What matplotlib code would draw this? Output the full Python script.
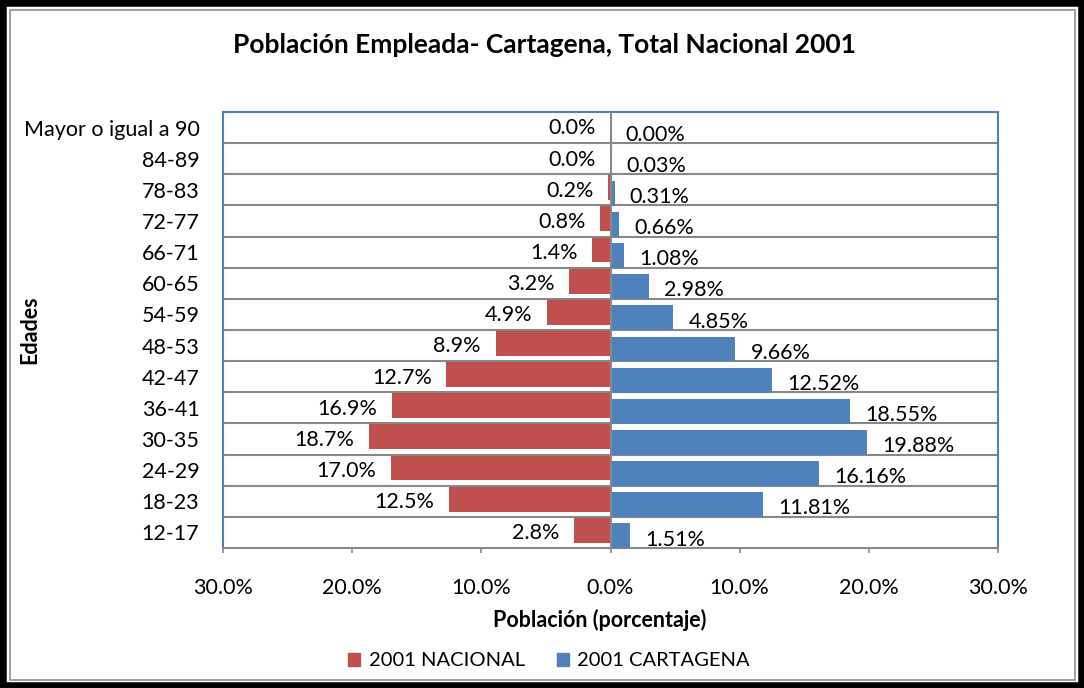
import matplotlib
matplotlib.use("Agg")
import matplotlib.pyplot as plt
from matplotlib.patches import Rectangle
import numpy as np

plt.rcParams['font.family'] = ['Lato', 'DejaVu Sans']

categories = ["12-17", "18-23", "24-29", "30-35", "36-41", "42-47", "48-53",
              "54-59", "60-65", "66-71", "72-77", "78-83", "84-89", "Mayor o igual a 90"]
nacional = [2.8, 12.5, 17.0, 18.7, 16.9, 12.7, 8.9, 4.9, 3.2, 1.4, 0.8, 0.2, 0.0, 0.0]
cartagena = [1.51, 11.81, 16.16, 19.88, 18.55, 12.52, 9.66, 4.85, 2.98, 1.08, 0.66, 0.31, 0.03, 0.00]
xticks = [-30, -20, -10, 0, 10, 20, 30]

RED = "#C0504D"
BLUE = "#4F81BD"
GRID = "#888888"

fig = plt.figure(figsize=(10.84, 6.88), dpi=100)
W, H = 1084, 688

# frame
fig.patches.append(Rectangle((0, 0), 1, 1, transform=fig.transFigure, fill=False,
                             edgecolor="black", linewidth=9, zorder=10))
fig.patches.append(Rectangle((9.5 / W, 8.5 / H), 1 - 19 / W, 1 - 18 / H, transform=fig.transFigure,
                             fill=False, edgecolor="#909090", linewidth=1.2, zorder=10))

ax = fig.add_axes([223 / W, 1 - 548 / H, (998 - 223) / W, (548 - 112) / H])
y = np.arange(len(categories))
h = 0.8
off_r, off_b = 0.07, -0.11

ax.barh(y + off_r, [-v for v in nacional], height=h, color=RED, zorder=3)
ax.barh(y + off_b, cartagena, height=h, color=BLUE, zorder=3)

FS = 15.5
for yi, v in zip(y, nacional):
    ax.annotate(f"{v:.1f}%", xy=(-v, yi - 0.22), xytext=(-10.5, 0),
                textcoords="offset points", ha="right", va="baseline", fontsize=FS, zorder=5)
for yi, v in zip(y, cartagena):
    ax.annotate(f"{v:.2f}%", xy=(v, yi - 0.42), xytext=(11, 0),
                textcoords="offset points", ha="left", va="baseline", fontsize=FS, zorder=5)

ax.set_xlim(-30, 30)
ax.set_ylim(-0.5, len(categories) - 0.5)

for b in np.arange(0.5, len(categories) - 0.5, 1):
    ax.axhline(b, color=GRID, linewidth=1.5, zorder=1)
ax.axvline(0, color=GRID, linewidth=1.5, zorder=4)

for s in ["left", "top", "right"]:
    ax.spines[s].set_color(BLUE)
    ax.spines[s].set_linewidth(1.5)
ax.spines["bottom"].set_color(GRID)
ax.spines["bottom"].set_linewidth(1.5)

ax.set_xticks(xticks)
ax.set_xticklabels([f"{abs(t):.1f}%" for t in xticks], fontsize=FS)
ax.tick_params(axis="x", length=3.6, width=1.2, color=GRID, pad=18)
ax.set_yticks(y)
ax.set_yticklabels(categories, fontsize=15.5)
ax.tick_params(axis="y", length=0, pad=17)

ax.set_xlabel("Población (porcentaje)", fontsize=15.5, fontweight="bold", labelpad=8)
ax.xaxis.label.set_x((599.5 - 223) / (998 - 223))
fig.text(30 / W, 1 - 330 / H, "Edades", rotation=90, fontsize=15.5, fontweight="bold",
         ha="center", va="center")

fig.text(544 / W, 1 - 45 / H, "Población Empleada- Cartagena, Total Nacional 2001",
         fontsize=19, fontweight="bold", ha="center", va="center")

handles = [Rectangle((0, 0), 1, 1, color=RED), Rectangle((0, 0), 1, 1, color=BLUE)]
fig.legend(handles, ["2001 NACIONAL", "2001 CARTAGENA"], loc="center",
           bbox_to_anchor=(549 / W, 1 - 661 / H), ncol=2, frameon=False, fontsize=14.5,
           handlelength=0.6, handleheight=0.6, handletextpad=0.4, columnspacing=1.6)

fig.savefig("out.png", dpi=100, facecolor="white")
